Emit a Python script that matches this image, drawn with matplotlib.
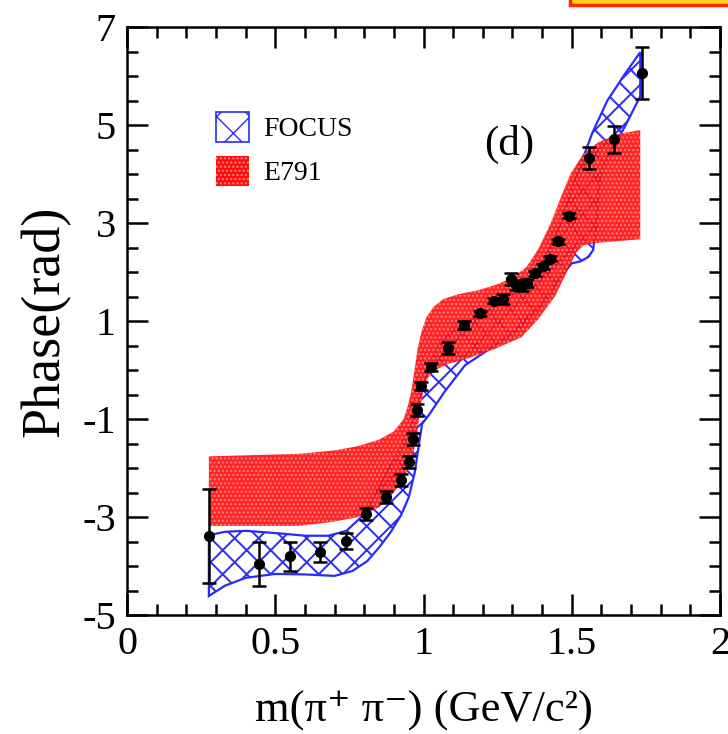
import numpy as np
import matplotlib
matplotlib.use('Agg')
from matplotlib import pyplot as plt
from matplotlib.patches import Polygon, Patch, Rectangle

plt.rcParams['font.family'] = ['Liberation Serif', 'DejaVu Serif']
plt.rcParams['axes.unicode_minus'] = False

# data points (mass, phase, error)
mass = [0.276, 0.444, 0.549, 0.650, 0.738, 0.805, 0.872, 0.923, 0.952, 0.965,
        0.978, 0.993, 1.024, 1.081, 1.138, 1.192, 1.239, 1.269, 1.296, 1.313,
        1.333, 1.350, 1.377, 1.404, 1.428, 1.455, 1.492, 1.559, 1.643, 1.737]
phase = [-3.39, -3.96, -3.80, -3.71, -3.49, -2.94, -2.59, -2.24, -1.87, -1.41,
         -0.82, -0.33, 0.06, 0.45, 0.92, 1.16, 1.42, 1.45, 1.86, 1.73,
         1.72, 1.78, 1.98, 2.12, 2.27, 2.63, 3.15, 4.33, 4.71, 6.06]
err = [0.96, 0.45, 0.29, 0.20, 0.17, 0.12, 0.12, 0.12, 0.12, 0.12,
       0.12, 0.08, 0.08, 0.12, 0.08, 0.05, 0.05, 0.10, 0.12, 0.10,
       0.10, 0.08, 0.05, 0.05, 0.05, 0.05, 0.05, 0.22, 0.28, 0.53]

# E791 band edges
e791_up_x = [0.276, 0.579, 0.70, 0.78, 0.85, 0.90, 0.933, 0.949, 0.960, 0.970,
             0.980, 0.993, 1.010, 1.034, 1.067, 1.118, 1.185, 1.253, 1.303, 1.347,
             1.387, 1.428, 1.461, 1.495, 1.539, 1.589, 1.657, 1.731]
e791_up_y = [-1.76, -1.71, -1.64, -1.55, -1.42, -1.25, -1.00, -0.69, -0.39, 0.02,
             0.43, 0.78, 1.08, 1.29, 1.45, 1.55, 1.63, 1.76, 1.90, 2.10,
             2.47, 2.98, 3.49, 4.00, 4.41, 4.65, 4.82, 4.90]
e791_lo_x = [0.276, 0.579, 0.69, 0.78, 0.85, 0.89, 0.925, 0.95, 0.966, 0.978,
             0.988, 0.998, 1.015, 1.04, 1.08, 1.14, 1.24, 1.33, 1.387, 1.444,
             1.488, 1.515, 1.54, 1.589, 1.731]
e791_lo_y = [-3.18, -3.18, -3.10, -3.00, -2.80, -2.57, -2.30, -2.00, -1.71, -1.30,
             -0.85, -0.45, -0.15, 0.00, 0.12, 0.22, 0.43, 0.67, 1.04, 1.51,
             2.06, 2.40, 2.55, 2.60, 2.67]

# FOCUS band edges
focus_up_x = [0.276, 0.33, 0.40, 0.51, 0.60, 0.68, 0.74, 0.79, 0.84, 0.88,
              0.92, 0.95, 0.975, 0.995, 1.02, 1.05, 1.09, 1.15, 1.22, 1.30,
              1.36, 1.41, 1.45, 1.49, 1.53, 1.57, 1.62, 1.68, 1.731]
focus_up_y = [-3.37, -3.30, -3.28, -3.33, -3.38, -3.38, -3.28, -3.00, -2.50, -2.05,
              -1.65, -1.30, -0.90, -0.40, 0.10, 0.48, 0.75, 0.98, 1.22, 1.55,
              1.85, 2.25, 2.80, 3.50, 4.20, 4.85, 5.50, 6.05, 6.49]
focus_lo_x = [0.276, 0.33, 0.40, 0.50, 0.60, 0.70, 0.76, 0.81, 0.85, 0.89,
              0.925, 0.95, 0.97, 0.985, 0.995, 1.02, 1.07, 1.14, 1.24, 1.32,
              1.40, 1.46, 1.50, 1.53, 1.556, 1.572, 1.582, 1.589, 1.60, 1.623,
              1.68, 1.731]
focus_lo_y = [-4.61, -4.40, -4.24, -4.16, -4.17, -4.20, -4.10, -3.90, -3.62, -3.30,
              -2.95, -2.60, -2.10, -1.50, -1.10, -0.90, -0.45, 0.10, 0.50, 0.84,
              1.35, 1.88, 2.18, 2.22, 2.31, 2.45, 2.90, 3.60, 4.05, 4.37,
              4.98, 5.59]

fig = plt.figure(figsize=(7.28, 7.34), dpi=100)
ax = fig.add_axes([0.1745, 0.162, 0.8145, 0.801])

# FOCUS: outline plus hand drawn cross hatch
fx = np.concatenate([focus_up_x, focus_lo_x[::-1]])
fy = np.concatenate([focus_up_y, focus_lo_y[::-1]])
focus = Polygon(np.column_stack([fx, fy]), closed=True, facecolor='none',
                edgecolor='#2a2aff', lw=1.6, zorder=2)
ax.add_patch(focus)
k = (0.8145 * 728 / 2.0) / (0.801 * 734 / 12.0)
xs = np.array([0.0, 2.0])
for c in np.arange(-1.5, 3.5, 0.081):
    for s in (1, -1):
        ln, = ax.plot(xs, s * k * (xs - c), color='#2a2aff', lw=1.4, zorder=2)
        ln.set_clip_path(focus)

# E791 band
ex = np.concatenate([e791_up_x, e791_lo_x[::-1]])
ey = np.concatenate([e791_up_y, e791_lo_y[::-1]])
ax.add_patch(Polygon(np.column_stack([ex, ey]), closed=True, facecolor='#ff0d0d',
                     edgecolor='#ff8c8c', lw=0, hatch='....', alpha=0.9, zorder=3))

ax.errorbar(mass, phase, yerr=err, fmt='o', color='black', ms=7, elinewidth=1.8,
            capsize=5, capthick=1.8, zorder=4)

ax.set_xlim(0, 2)
ax.set_ylim(-5, 7)
ax.set_xticks([0, 0.5, 1, 1.5, 2])
ax.set_xticklabels(['0', '0.5', '1', '1.5', '2'])
ax.set_xticks(np.arange(0, 2.001, 0.1), minor=True)
ax.set_yticks([-5, -3, -1, 1, 3, 5, 7])
ax.set_yticks(np.arange(-5, 7.001, 0.5), minor=True)
ax.tick_params(which='both', direction='in', top=True, right=True, width=1.8,
               labelsize=29, pad=8)
ax.tick_params(which='major', length=15)
ax.tick_params(which='minor', length=8)
for sp in ax.spines.values():
    sp.set_linewidth(1.8)

ax.set_xlabel('m(π⁺ π⁻) (GeV/c²)', fontsize=32, labelpad=20)
ax.set_ylabel('Phase(rad)', fontsize=39, labelpad=8)
ax.text(1.29, 4.61, '(d)', fontsize=31, ha='center', va='center')

handles = [Patch(facecolor='none', edgecolor='#2a2aff', hatch='x', lw=1.2),
           Patch(facecolor='#ff0d0d', edgecolor='#ff8c8c', hatch='....', lw=0)]
ax.legend(handles, ['FOCUS', 'E791'], loc='upper left', bbox_to_anchor=(0.150, 0.855),
          frameon=False, fontsize=20, handlelength=1.2, handleheight=1.25,
          labelspacing=0.5, handletextpad=0.5, borderpad=0, borderaxespad=0)

# bit of a highlighted box cut off at the top edge
fig.patches.append(Rectangle((570 / 728, 1 - 5 / 734), 0.3, 0.05, transform=fig.transFigure,
                             facecolor='#ffd21e', edgecolor='#ff2a00', lw=2.5))

plt.savefig('out.png', dpi=100)
